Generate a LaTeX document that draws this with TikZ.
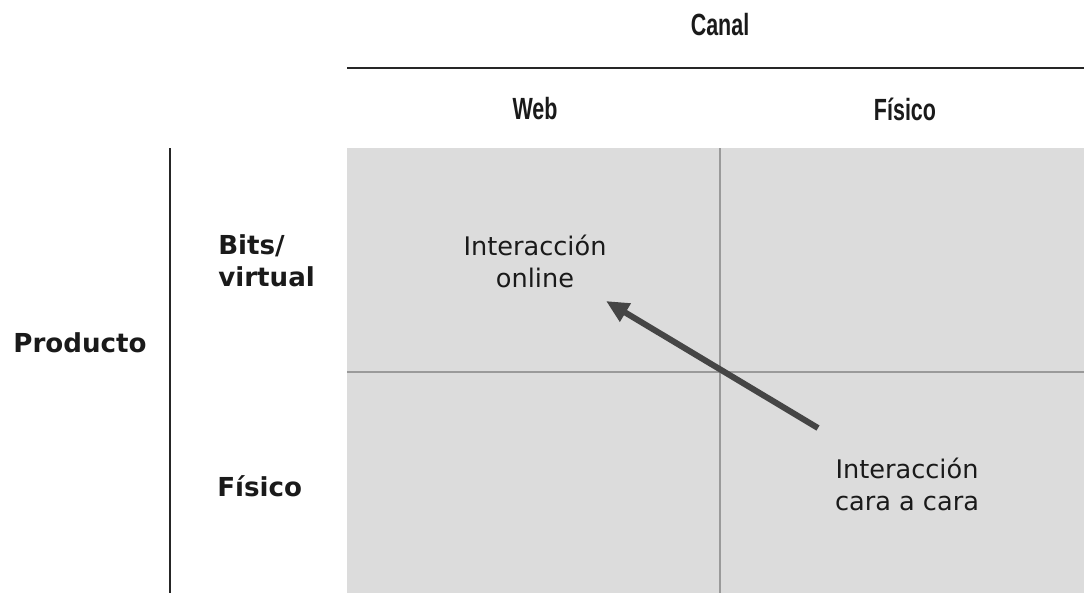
\documentclass[tikz,border=0pt]{standalone}
\usepackage{fontspec}
\setmainfont{DejaVu Sans}
\newfontfamily\hdrfont{Liberation Sans}
\usetikzlibrary{arrows.meta}
\definecolor{cellgray}{HTML}{DCDCDC}
\definecolor{gridgray}{HTML}{9A9A9A}
\definecolor{arrowgray}{HTML}{454545}
\definecolor{txt}{HTML}{1A1A1A}
\tikzset{
  hdr/.style={font=\hdrfont\bfseries\fontsize{23}{26}\selectfont, text=txt, inner sep=0pt},
  sidelbl/.style={font=\bfseries\fontsize{19.6}{24}\selectfont, text=txt, inner sep=0pt, align=left},
  celltxt/.style={font=\fontsize{19.2}{24}\selectfont, text=txt, inner sep=0pt, align=center},
  gridline/.style={draw=gridgray, line width=1.1pt},
  axisline/.style={draw=black!85, line width=1.5pt},
  bigarrow/.style={draw=arrowgray, line width=4.5pt, -{Triangle[length=17pt,width=15pt]}}
}
\begin{document}
\begin{tikzpicture}[x=0.75pt,y=-0.75pt]
\useasboundingbox (0,0) rectangle (1084,593);
% gray cells
\fill[cellgray] (347,148) rectangle (1084,593);
\draw[gridline] (720,148) -- (720,593);
\draw[gridline] (347,372) -- (1084,372);
% axis lines
\coordinate (topL) at (347,68);
\coordinate (topR) at (1084,68);
\draw[axisline] (topL) -- (topR);
\coordinate (leftT) at (170,148);
\coordinate (leftB) at (170,593);
\draw[axisline] (leftT) -- (leftB);
% headers
\node[hdr] (canal) at (720,25) {\scalebox{0.7}[1]{Canal}};
\node[hdr] (web) at (535,109) {\scalebox{0.7}[1]{Web}};
\node[hdr] (fisicoTop) at (905,109) {\scalebox{0.7}[1]{Físico}};
% side labels
\node[sidelbl] (producto) at (80,343) {Producto};
\node[sidelbl, anchor=west] (bits) at (218,261) {Bits/\\virtual};
\node[sidelbl, anchor=west] (fisicoSide) at (217,486) {Físico};
% cell texts
\node[celltxt] (online) at (535,261) {Interacción\\online};
\node[celltxt] (cara) at (907,484) {Interacción\\cara a cara};
% arrow
\coordinate (atail) at (818,428);
\coordinate (ahead) at (606,301);
\draw[bigarrow] (atail) -- (ahead);
\end{tikzpicture}
\end{document}
